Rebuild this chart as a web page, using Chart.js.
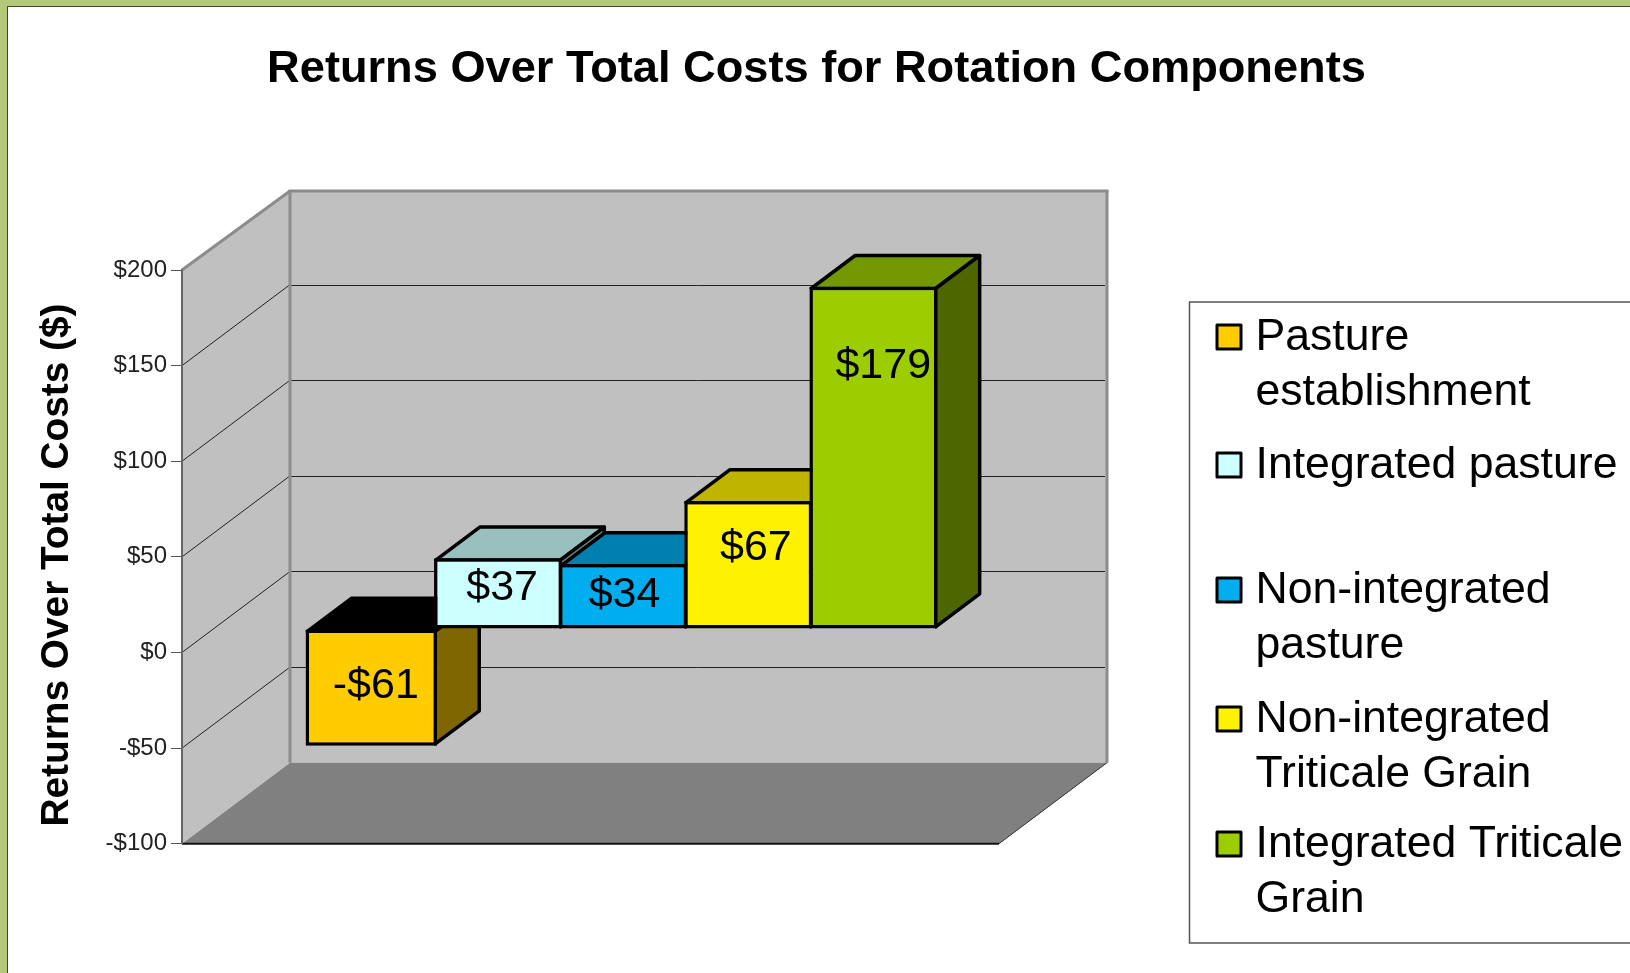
<!DOCTYPE html>
<html>
<head>
<meta charset="utf-8">
<title>Returns Over Total Costs for Rotation Components</title>
<script src="https://cdn.jsdelivr.net/npm/chart.js@4"></script>
<style>
    html, body { margin: 0; height: 100%; overflow: hidden; background: #b3c878; }
    #frame { position: absolute; left: 7px; top: 6px; right: 0; bottom: 0; background: #fff; border-left: 1px solid #3c4a28; border-top: 1px solid #3c4a28; }
    #chart { position: absolute; left: 0; top: 0; }
</style>
</head>
<body>
<div id="frame"></div>
<canvas id="chart" width="1630" height="973"></canvas>
<script>
const categories = ['Returns'];
const seriesNames = ['Pasture establishment', 'Integrated pasture', 'Non-integrated pasture', 'Non-integrated Triticale Grain', 'Integrated Triticale Grain'];
const seriesValues = [-61, 37, 34, 67, 179];
const dataLabels = ['-$61', '$37', '$34', '$67', '$179'];
const legendLines = [['Pasture', 'establishment'], ['Integrated pasture'], ['Non-integrated', 'pasture'], ['Non-integrated', 'Triticale Grain'], ['Integrated Triticale', 'Grain']];
const yTicks = [-100, -50, 0, 50, 100, 150, 200];

const frontColors = ['#ffcc00', '#ccffff', '#00adef', '#fff200', '#9bcd00'];
const topColors = ['#000000', '#99bfbf', '#0080b0', '#bfb500', '#749900'];
const sideColors = ['#806600', '#668080', '#005778', '#807900', '#4d6600'];

const FONT = '"Liberation Sans", Arial, sans-serif';
// depth of the box and of each bar, in px
const WALL_DX = 108, WALL_DY = -81;
const BAR_DX = 44, BAR_DY = -33;
const BAR_SHIFT_X = 31, BAR_SHIFT_Y = -23.4;
const BAR_STROKE = 3.5;
// the original bars are not quite evenly spread
const barNudge = [2.5, 2.9, 1.6, 0.4, -0.8];
const barWidths = [1.04, 1.013, 1.013, 1.013, 1.013];
// where each value label sits relative to the middle of its slot
const labelNudge = [[7, -2], [7, -5], [3, -1], [8, -17], [9, -92]];
// legend rows: first line baseline of each entry
const legendBaselines = [350, 478, 603, 732, 857];

function poly(ctx, points, fill, stroke, width) {
    ctx.beginPath();
    points.forEach((p, i) => i ? ctx.lineTo(p[0], p[1]) : ctx.moveTo(p[0], p[1]));
    ctx.closePath();
    if (fill) {
        ctx.fillStyle = fill;
        ctx.fill();
    }
    if (stroke) {
        ctx.strokeStyle = stroke;
        ctx.lineWidth = width;
        ctx.lineJoin = 'round';
        ctx.stroke();
    }
}

function line(ctx, x1, y1, x2, y2, color, width) {
    ctx.beginPath();
    ctx.moveTo(x1, y1);
    ctx.lineTo(x2, y2);
    ctx.strokeStyle = color;
    ctx.lineWidth = width;
    ctx.stroke();
}

const walls = {
    id: 'walls',
    beforeDraw(chart) {
        const ctx = chart.ctx;
        const { left, right, top, bottom } = chart.chartArea;
        const y = chart.scales.y;
        const backLeft = left + WALL_DX, backRight = right + WALL_DX;
        const backTop = top + WALL_DY + 2, backBottom = bottom + WALL_DY;

        ctx.save();
        poly(ctx, [[left, top], [backLeft, backTop], [backLeft, backBottom], [left, bottom]], '#c0c0c0');
        poly(ctx, [[backLeft, backTop], [backRight, backTop], [backRight, backBottom], [backLeft, backBottom]], '#c0c0c0');
        poly(ctx, [[left, bottom], [backLeft, backBottom], [backRight, backBottom], [right, bottom]], '#808080');

        yTicks.slice(1, -1).forEach((v) => {
            const py = y.getPixelForValue(v);
            line(ctx, left, py, backLeft, py + WALL_DY, '#222', 1);
            const by = Math.round(py + WALL_DY) + 0.5;
            line(ctx, backLeft, by, backRight - 2, by, '#222', 1);
        });

        line(ctx, left, top, backLeft, backTop, '#8c8c8c', 3);
        line(ctx, backLeft - 1.5, backTop, backRight + 1.5, backTop, '#8c8c8c', 3);
        line(ctx, backLeft, backTop, backLeft, backBottom, '#8c8c8c', 3);
        line(ctx, backRight, backTop, backRight, backBottom, '#8c8c8c', 3);
        line(ctx, left, bottom, right, bottom, '#111', 2);
        line(ctx, right, bottom, backRight, backBottom, '#333', 1);
        ctx.restore();
    }
};

const bars3d = {
    id: 'bars3d',
    // draw the datasets left to right so every bar paints over the one before it
    beforeDatasetsDraw(chart) {
        const ctx = chart.ctx;
        const inset = BAR_STROKE / 2;
        ctx.save();
        ctx.translate(BAR_SHIFT_X, BAR_SHIFT_Y);

        seriesValues.forEach((value, i) => {
            const meta = chart.getDatasetMeta(i);
            const bar = meta.data[0];
            const l = bar.x - bar.width / 2 + inset;
            const r = bar.x + bar.width / 2 - inset;
            const hi = Math.min(bar.y, bar.base) + inset;
            const lo = Math.max(bar.y, bar.base) - inset;
            ctx.save();
            ctx.translate(barNudge[i], 0);
            poly(ctx, [[l, hi], [l + BAR_DX, hi + BAR_DY], [r + BAR_DX, hi + BAR_DY], [r, hi]], topColors[i], '#000', BAR_STROKE);
            poly(ctx, [[r, hi], [r + BAR_DX, hi + BAR_DY], [r + BAR_DX, lo + BAR_DY], [r, lo]], sideColors[i], '#000', BAR_STROKE);
            meta.controller.draw();
            ctx.restore();
        });

        ctx.font = '43px ' + FONT;
        ctx.fillStyle = '#000';
        ctx.textAlign = 'center';
        ctx.textBaseline = 'middle';
        seriesValues.forEach((value, i) => {
            const bar = chart.getDatasetMeta(i).data[0];
            ctx.fillText(dataLabels[i], bar.x + labelNudge[i][0], (bar.y + bar.base) / 2 + labelNudge[i][1]);
        });
        ctx.restore();
        return false;
    }
};

const sideTexts = {
    id: 'sideTexts',
    afterDraw(chart) {
        const ctx = chart.ctx;
        ctx.save();
        ctx.fillStyle = '#000';
        ctx.textBaseline = 'alphabetic';

        // chart title, centred on the page rather than on the plot
        ctx.font = 'bold 45.2px ' + FONT;
        ctx.textAlign = 'center';
        ctx.fillText('Returns Over Total Costs for Rotation Components', 816.5, 82);

        // y axis title
        ctx.save();
        ctx.translate(68, 565);
        ctx.rotate(-Math.PI / 2);
        ctx.font = 'bold 39px ' + FONT;
        ctx.fillText('Returns Over Total Costs ($)', 0, 0, 523);
        ctx.restore();

        // legend box runs off the right edge of the page
        ctx.strokeStyle = '#555';
        ctx.lineWidth = 1.5;
        ctx.strokeRect(1189.5, 302, 600, 641);

        ctx.font = '44.6px ' + FONT;
        ctx.textAlign = 'left';
        legendLines.forEach((lines, i) => {
            const base = legendBaselines[i];
            ctx.fillStyle = frontColors[i];
            ctx.strokeStyle = '#000';
            ctx.lineWidth = 3;
            ctx.lineJoin = 'round';
            ctx.fillRect(1217, base - 25, 24, 24);
            ctx.strokeRect(1217, base - 25, 24, 24);
            ctx.fillStyle = '#000';
            lines.forEach((text, j) => ctx.fillText(text, 1255.5, base + j * 55));
        });
        ctx.restore();
    }
};

new Chart(document.getElementById('chart').getContext('2d'), {
    type: 'bar',
    data: {
        labels: categories,
        datasets: seriesNames.map((name, i) => ({
            label: name,
            data: [seriesValues[i]],
            backgroundColor: frontColors[i],
            borderColor: '#000',
            borderWidth: BAR_STROKE,
            borderSkipped: false,
            barPercentage: barWidths[i],
            categoryPercentage: 0.7733
        }))
    },
    options: {
        responsive: false,
        animation: false,
        layout: { padding: { top: 270, left: 0, right: 631, bottom: 129.3 } },
        plugins: {
            legend: { display: false },
            tooltip: { enabled: false },
            title: { display: false }
        },
        scales: {
            x: { display: false },
            y: {
                min: -100,
                max: 200,
                afterFit(scale) { scale.width = 182; },
                afterBuildTicks(scale) { scale.ticks = yTicks.map((value) => ({ value })); },
                border: { display: true, color: '#666', width: 2 },
                grid: { drawOnChartArea: false, drawTicks: true, tickLength: 11, color: '#555', lineWidth: 1 },
                ticks: {
                    padding: 4,
                    color: '#222',
                    font: { family: FONT, size: 24 },
                    callback: (v) => (v < 0 ? '-$' + Math.abs(v) : '$' + v)
                }
            }
        }
    },
    plugins: [walls, bars3d, sideTexts]
});
</script>
</body>
</html>
